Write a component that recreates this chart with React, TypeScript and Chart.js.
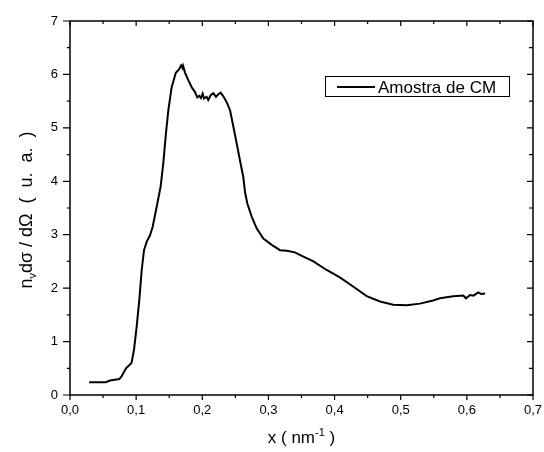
import React, { useEffect, useRef } from "react";
import { Chart, registerables } from "chart.js";

Chart.register(...registerables);

const xValues = [
  0.029, 0.054, 0.0605, 0.0746, 0.078, 0.0847, 0.093, 0.0968, 0.1008, 0.1048,
  0.1084, 0.1119, 0.116, 0.121, 0.125, 0.131, 0.137, 0.141, 0.145, 0.1487,
  0.1537, 0.156, 0.16, 0.165, 0.168, 0.17, 0.171, 0.174, 0.179, 0.184,
  0.189, 0.1925, 0.1955, 0.198, 0.2006, 0.2026, 0.2066, 0.209, 0.2127, 0.2167,
  0.2207, 0.2243, 0.2278, 0.2318, 0.2369, 0.242, 0.247, 0.252, 0.257, 0.262,
  0.2646, 0.268, 0.2747, 0.2822, 0.2923, 0.305, 0.3175, 0.3276, 0.34, 0.3528,
  0.368, 0.388, 0.408, 0.428, 0.4486, 0.4687, 0.4888, 0.509, 0.529, 0.549,
  0.5594, 0.5795, 0.5947, 0.5987, 0.6048, 0.61, 0.6173, 0.622, 0.6275,
];
const yValues = [
  0.24, 0.24, 0.27, 0.3, 0.35, 0.5, 0.6, 0.85, 1.28, 1.78,
  2.34, 2.71, 2.87, 2.99, 3.15, 3.52, 3.9, 4.33, 4.89, 5.33,
  5.76, 5.86, 6.03, 6.1, 6.17, 6.12, 6.16, 6.03, 5.89, 5.76,
  5.67, 5.57, 5.6, 5.56, 5.64, 5.55, 5.58, 5.52, 5.61, 5.65,
  5.58, 5.63, 5.66, 5.59, 5.48, 5.33, 5.02, 4.71, 4.39, 4.08,
  3.8, 3.59, 3.34, 3.12, 2.93, 2.81, 2.71, 2.7, 2.67, 2.59,
  2.5, 2.34, 2.2, 2.03, 1.85, 1.75, 1.69, 1.68, 1.71, 1.77,
  1.81, 1.85, 1.86, 1.81, 1.87, 1.86, 1.92, 1.89, 1.9,
];
const seriesName = "Amostra de CM";
const xMin = 0, xMax = 0.7, xStep = 0.1;
const yMin = 0, yMax = 7, yStep = 1;

const FONT = "'Liberation Sans', Arial, sans-serif";

const framePlugin = {
  id: "frame",
  afterDraw(chart: any) {
    const ctx = chart.ctx;
    const { left, right, top, bottom } = chart.chartArea;
    const xs = chart.scales.x;
    const ys = chart.scales.y;
    ctx.save();
    ctx.strokeStyle = "#000";
    ctx.lineWidth = 1.5;
    ctx.strokeRect(left, top, right - left, bottom - top);
    ctx.lineWidth = 1.2;
    ctx.beginPath();
    for (let i = 0; i <= 14; i++) {
      const v = xMin + (i * xStep) / 2;
      const px = xs.getPixelForValue(v);
      const major = i % 2 === 0;
      ctx.moveTo(px, bottom);
      ctx.lineTo(px, bottom + (major ? 5 : 3));
      ctx.moveTo(px, top);
      ctx.lineTo(px, top + (major ? 5 : 3));
    }
    for (let i = 0; i <= 14; i++) {
      const v = yMin + (i * yStep) / 2;
      const py = ys.getPixelForValue(v);
      const major = i % 2 === 0;
      ctx.moveTo(left, py);
      ctx.lineTo(left - (major ? 7 : 3), py);
      ctx.moveTo(right, py);
      ctx.lineTo(right - (major ? 6 : 4), py);
    }
    ctx.stroke();

    ctx.fillStyle = "#000";
    ctx.textBaseline = "alphabetic";
    const big = "17px " + FONT;
    const ybig = "18px " + FONT;
    const small = "11px " + FONT;
    const parts = [
      { t: "x ( nm", f: big, dy: 0 },
      { t: "-1", f: small, dy: -7 },
      { t: " )", f: big, dy: 0 },
    ];
    let w = 0;
    parts.forEach((p) => { ctx.font = p.f; w += ctx.measureText(p.t).width; });
    let cx = (left + right) / 2 - w / 2;
    const by = 443;
    parts.forEach((p) => {
      ctx.font = p.f;
      ctx.fillText(p.t, cx, by + p.dy);
      cx += ctx.measureText(p.t).width;
    });

    const yparts = [
      { t: "n", f: ybig, dy: 0 },
      { t: "v", f: small, dy: 4 },
      { t: "d\u03c3 / d\u03a9  (  u.  a.  )", f: ybig, dy: 0 },
    ];
    let yw = 0;
    yparts.forEach((p) => { ctx.font = p.f; yw += ctx.measureText(p.t).width; });
    ctx.save();
    ctx.translate(32, (top + bottom) / 2 + 2);
    ctx.rotate(-Math.PI / 2);
    let tx = -yw / 2;
    yparts.forEach((p) => {
      ctx.font = p.f;
      ctx.fillText(p.t, tx, p.dy);
      tx += ctx.measureText(p.t).width;
    });
    ctx.restore();

    ctx.lineWidth = 1;
    ctx.strokeRect(325.5, 76.5, 184, 20);
    ctx.lineWidth = 2;
    ctx.beginPath();
    ctx.moveTo(337, 87);
    ctx.lineTo(375, 87);
    ctx.stroke();
    ctx.font = big;
    ctx.fillText(seriesName, 378, 93);
    ctx.restore();
  },
};

export default function App() {
  const ref = useRef<HTMLCanvasElement | null>(null);
  useEffect(() => {
    document.body.style.margin = "0";
    const data = xValues.map((x, i) => ({ x, y: yValues[i] }));
    const chart = new Chart(ref.current as HTMLCanvasElement, {
      type: "line",
      data: {
        datasets: [
          {
            label: seriesName,
            data,
            borderColor: "#000",
            borderWidth: 2,
            pointRadius: 0,
            tension: 0,
            fill: false,
          },
        ],
      },
      options: {
        animation: false,
        responsive: false,
        layout: { padding: { top: 21, right: 11, left: 0, bottom: 0 } },
        plugins: { legend: { display: false }, tooltip: { enabled: false } },
        scales: {
          x: {
            type: "linear",
            min: xMin,
            max: xMax,
            grid: { display: false, drawTicks: false },
            border: { display: false },
            ticks: {
              stepSize: xStep,
              padding: 8,
              color: "#000",
              font: { family: FONT, size: 13 },
              callback: (v: any) => Number(v).toFixed(1).replace(".", ","),
            },
            afterFit: (s: any) => { s.height = 57; s.paddingLeft = 0; s.paddingRight = 0; },
          },
          y: {
            min: yMin,
            max: yMax,
            grid: { display: false, drawTicks: false },
            border: { display: false },
            ticks: {
              stepSize: yStep,
              padding: 12,
              color: "#000",
              font: { family: FONT, size: 13 },
              callback: (v: any) => String(Math.round(Number(v))),
            },
            afterFit: (s: any) => { s.width = 70; s.paddingTop = 0; s.paddingBottom = 0; },
          },
        },
      },
      plugins: [framePlugin],
    });
    return () => chart.destroy();
  }, []);
  return (
    <div style={{ width: 544, height: 452 }}>
      <canvas ref={ref} width={544} height={452} />
    </div>
  );
}
